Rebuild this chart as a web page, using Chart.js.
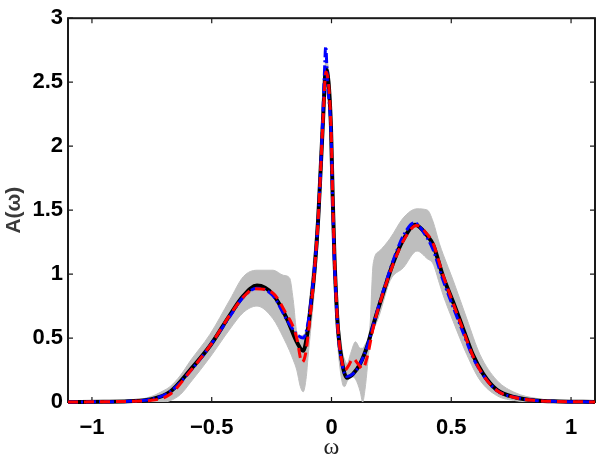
<!DOCTYPE html>
<html>
<head>
<meta charset="utf-8">
<script src="https://cdn.jsdelivr.net/npm/chart.js@4.4.1/dist/chart.umd.min.js"></script>
<style>
  body { margin: 0; background: #fff; }
  #wrap { width: 596px; height: 462px; }
</style>
</head>
<body>
<div id="wrap"><canvas id="chart" width="596" height="462"></canvas></div>
<script>
// spectral function A(w)
const xTicks = [-1, -0.5, 0, 0.5, 1];
const xTickLabels = ['\u22121', '\u22120.5', '0', '0.5', '1'];
const yTicks = [0, 0.5, 1, 1.5, 2, 2.5, 3];
const yTickLabels = ['0', '0.5', '1', '1.5', '2', '2.5', '3'];

// gray spread band
const bandX = [-1.1, -0.85, -0.757, -0.7, -0.674, -0.63, -0.59, -0.507, -0.424, -0.368, -0.311, -0.244, -0.2, -0.175, -0.16, -0.145, -0.13, -0.118, -0.105, -0.098, -0.085, -0.07, -0.055, -0.037, -0.023, -0.002, 0.005, 0.012, 0.02, 0.027, 0.045, 0.055, 0.065, 0.08, 0.1, 0.12, 0.13, 0.14, 0.16, 0.174, 0.2, 0.245, 0.3, 0.357, 0.4, 0.424, 0.45, 0.467, 0.508, 0.565, 0.62, 0.69, 0.77, 0.85, 0.95, 1.1];
const bandUpper = [0.005, 0.01, 0.04, 0.09, 0.12, 0.21, 0.32, 0.53, 0.80, 0.98, 1.03, 1.03, 0.99, 0.97, 0.80, 0.55, 0.52, 0.52, 0.58, 0.68, 0.92, 1.22, 1.62, 2.3, 2.67, 2.3, 1.77, 1.32, 0.97, 0.72, 0.40, 0.33, 0.30, 0.38, 0.47, 0.42, 0.42, 0.45, 0.58, 1.08, 1.18, 1.28, 1.44, 1.51, 1.50, 1.41, 1.24, 1.15, 0.95, 0.65, 0.37, 0.17, 0.07, 0.03, 0.01, 0.005];
const bandLower = [0, 0, 0, 0, 0.01, 0.06, 0.15, 0.35, 0.57, 0.70, 0.75, 0.65, 0.50, 0.40, 0.33, 0.25, 0.12, 0.08, 0.2, 0.35, 0.6, 0.9, 1.28, 1.98, 2.52, 1.98, 1.43, 0.98, 0.63, 0.42, 0.15, 0.12, 0.16, 0.2, 0.18, 0.08, 0.0, 0.1, 0.45, 0.55, 0.68, 0.95, 1.05, 1.18, 1.12, 1.08, 0.93, 0.83, 0.63, 0.37, 0.17, 0.05, 0.01, 0, 0, 0];

// black solid
const blackX = [-1.1, -0.95, -0.85, -0.757, -0.674, -0.59, -0.507, -0.424, -0.368, -0.311, -0.244, -0.186, -0.145, -0.118, -0.098, -0.085, -0.07, -0.055, -0.037, -0.023, -0.002, 0.005, 0.012, 0.02, 0.027, 0.045, 0.064, 0.09, 0.12, 0.15, 0.174, 0.2, 0.26, 0.3, 0.349, 0.4, 0.424, 0.466, 0.508, 0.55, 0.59, 0.633, 0.69, 0.77, 0.85, 0.95, 1.1];
const blackY = [0, 0.002, 0.006, 0.02, 0.08, 0.25, 0.44, 0.68, 0.83, 0.91, 0.84, 0.65, 0.47, 0.40, 0.57, 0.78, 1.05, 1.45, 2.14, 2.60, 2.14, 1.6, 1.15, 0.8, 0.57, 0.30, 0.19, 0.22, 0.30, 0.44, 0.60, 0.76, 1.10, 1.27, 1.386, 1.30, 1.23, 0.98, 0.78, 0.57, 0.37, 0.22, 0.095, 0.035, 0.012, 0.004, 0];

// blue dash-dot
const blueX = [-1.1, -0.95, -0.85, -0.757, -0.674, -0.59, -0.507, -0.424, -0.368, -0.311, -0.244, -0.186, -0.145, -0.118, -0.098, -0.085, -0.07, -0.055, -0.037, -0.03, -0.024, -0.017, -0.002, 0.005, 0.012, 0.02, 0.027, 0.045, 0.064, 0.09, 0.12, 0.15, 0.174, 0.2, 0.26, 0.3, 0.345, 0.4, 0.424, 0.466, 0.508, 0.55, 0.59, 0.633, 0.69, 0.77, 0.85, 0.95, 1.1];
const blueY = [0, 0.002, 0.006, 0.02, 0.08, 0.24, 0.44, 0.67, 0.82, 0.89, 0.83, 0.64, 0.53, 0.50, 0.62, 0.8, 1.07, 1.45, 2.2, 2.55, 2.78, 2.5, 2.1, 1.55, 1.1, 0.78, 0.55, 0.29, 0.20, 0.22, 0.30, 0.44, 0.60, 0.77, 1.12, 1.30, 1.40, 1.28, 1.19, 0.95, 0.74, 0.54, 0.35, 0.21, 0.09, 0.035, 0.012, 0.004, 0];

// red dashed
const redX = [-1.1, -0.95, -0.85, -0.757, -0.674, -0.59, -0.507, -0.424, -0.368, -0.32, -0.244, -0.186, -0.165, -0.145, -0.123, -0.108, -0.092, -0.07, -0.055, -0.037, -0.023, -0.002, 0.005, 0.012, 0.02, 0.027, 0.045, 0.056, 0.07, 0.09, 0.11, 0.13, 0.15, 0.174, 0.2, 0.26, 0.3, 0.355, 0.4, 0.424, 0.466, 0.508, 0.55, 0.59, 0.633, 0.69, 0.77, 0.85, 0.95, 1.1];
const redY = [0, 0.002, 0.005, 0.012, 0.06, 0.24, 0.44, 0.68, 0.82, 0.885, 0.85, 0.68, 0.61, 0.50, 0.31, 0.38, 0.62, 1.05, 1.45, 2.14, 2.58, 2.14, 1.6, 1.15, 0.8, 0.57, 0.30, 0.25, 0.28, 0.34, 0.30, 0.26, 0.36, 0.58, 0.76, 1.09, 1.26, 1.38, 1.31, 1.24, 0.99, 0.77, 0.56, 0.36, 0.21, 0.09, 0.033, 0.012, 0.004, 0];

const pts = (xs, ys) => xs.map((v, i) => ({x: v, y: ys[i]}));

// box + inward ticks on all four sides, drawn under the curves
const frame = {
    id: 'frame',
    beforeDatasetsDraw(chart) {
        const {ctx, chartArea: a, scales: {x, y}} = chart;
        ctx.save();
        ctx.strokeStyle = '#1a1a1a';
        ctx.lineWidth = 1.2;
        ctx.beginPath();
        x.ticks.forEach(t => {
            const px = x.getPixelForValue(t.value);
            ctx.moveTo(px, a.bottom); ctx.lineTo(px, a.bottom - 5);
            ctx.moveTo(px, a.top); ctx.lineTo(px, a.top + 5);
        });
        y.ticks.forEach(t => {
            const py = y.getPixelForValue(t.value);
            ctx.moveTo(a.left, py); ctx.lineTo(a.left + 5, py);
            ctx.moveTo(a.right, py); ctx.lineTo(a.right - 5, py);
        });
        ctx.stroke();
        ctx.lineWidth = 2;
        ctx.strokeRect(a.left, a.top, a.right - a.left, a.bottom - a.top);
        ctx.restore();
    }
};

const tickFont = {family: 'Liberation Sans', size: 22, weight: 'bold'};

// chart.js paints dataset 0 last, so the red line sits on top and the band at the bottom
new Chart(document.querySelector('#chart').getContext('2d'), {
    type: 'line',
    data: {
        datasets: [
            {
                data: pts(redX, redY),
                borderColor: '#ff0000',
                borderWidth: 3,
                borderDash: [10, 6],
                fill: false,
                pointRadius: 0,
                clip: false
            },
            {
                data: pts(blueX, blueY),
                borderColor: '#0000ff',
                borderWidth: 3,
                borderDash: [10, 3, 2, 3],
                fill: false,
                pointRadius: 0,
                clip: false
            },
            {
                data: pts(blackX, blackY),
                borderColor: '#000',
                borderWidth: 4,
                fill: false,
                pointRadius: 0,
                clip: false
            },
            {
                data: pts(bandX, bandUpper),
                borderColor: '#bebebe',
                borderWidth: 1,
                backgroundColor: '#bebebe',
                fill: '+1',
                pointRadius: 0
            },
            {
                data: pts(bandX, bandLower),
                borderColor: '#bebebe',
                borderWidth: 1,
                fill: false,
                pointRadius: 0
            }
        ]
    },
    options: {
        responsive: false,
        animation: false,
        cubicInterpolationMode: 'monotone',
        layout: {padding: {top: 7, right: 1, left: 0, bottom: 0}},
        plugins: {legend: {display: false}, tooltip: {enabled: false}},
        scales: {
            x: {
                type: 'linear',
                min: -1.1,
                max: 1.1,
                afterBuildTicks: s => { s.ticks = xTicks.map(v => ({value: v})); },
                afterFit: s => { s.height = 60; },
                grid: {display: false, drawTicks: false},
                border: {display: false},
                ticks: {
                    font: tickFont,
                    color: '#000',
                    padding: 13,
                    maxRotation: 0,
                    callback: (v, i) => xTickLabels[i]
                },
                title: {
                    display: true,
                    text: 'ω',
                    color: '#222',
                    font: {family: 'Liberation Serif', size: 24},
                    padding: {top: 0, bottom: 0}
                }
            },
            y: {
                min: 0,
                max: 3,
                afterBuildTicks: s => { s.ticks = yTicks.map(v => ({value: v})); },
                afterFit: s => { s.width = 68; },
                grid: {display: false, drawTicks: false},
                border: {display: false},
                ticks: {
                    font: tickFont,
                    color: '#000',
                    padding: 5,
                    callback: (v, i) => yTickLabels[i]
                },
                title: {
                    display: true,
                    text: 'A(ω)',
                    color: '#3a3a3a',
                    font: {family: 'Liberation Sans', size: 21, weight: 'bold'},
                    padding: {top: 2, bottom: 0}
                }
            }
        }
    },
    plugins: [frame]
});
</script>
</body>
</html>
